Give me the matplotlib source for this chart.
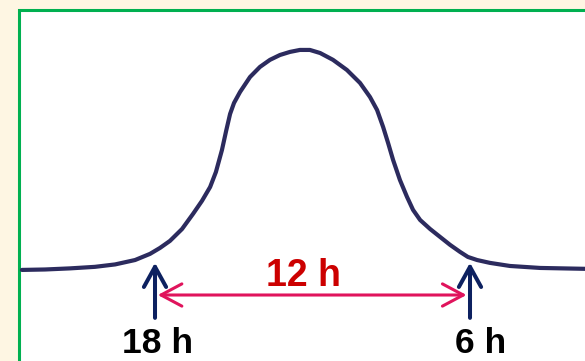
import matplotlib
matplotlib.use("Agg")
import matplotlib.pyplot as plt
from matplotlib.patches import Rectangle, FancyArrowPatch

# Hormone level over one night, hours counted from 18 h
hours = [-5.07, -4.19, -3.24, -2.29, -1.52, -0.76, -0.19, 0.19, 0.57, 1.03,
         1.45, 1.79, 2.10, 2.32, 2.55, 2.71, 2.86, 3.01, 3.24, 3.62,
         4.00, 4.38, 4.76, 5.14, 5.52, 5.90, 6.29, 6.78, 7.31, 7.81,
         8.19, 8.46, 8.69, 8.88, 9.07, 9.33, 9.60, 9.83, 10.10, 10.48,
         10.86, 11.24, 11.62, 11.92, 12.27, 12.76, 13.52, 14.67, 16.38]
level = [0.0, 0.2, 0.7, 1.4, 2.5, 4.5, 7.3, 10.0, 13.2, 18.6,
         25.5, 31.4, 37.7, 44.5, 54.5, 63.2, 70.9, 75.9, 80.9, 87.7,
         92.3, 95.5, 97.7, 99.1, 100.0, 100.0, 98.6, 95.5, 90.9, 85.0,
         78.6, 72.7, 65.0, 57.7, 50.0, 40.9, 33.2, 27.3, 22.7, 18.6,
         15.0, 11.4, 8.2, 5.9, 4.5, 3.2, 1.8, 0.9, 0.5]

onset_hour, offset_hour = 0.0, 12.0
start_label, end_label, span_label = "18 h", "6 h", "12 h"

# pixel geometry of the canvas
W, H, DPI = 585, 361, 100
fig = plt.figure(figsize=(W / DPI, H / DPI), dpi=DPI, facecolor="#fef6e3")

# white panel with green frame
panel = Rectangle((19 / W, -0.1), 1.2, (H - 9.5) / H + 0.1,
                  transform=fig.transFigure, facecolor="white",
                  edgecolor="#00b050", linewidth=2.2, zorder=0)
fig.add_artist(panel)

ax = fig.add_axes([0, 0, 1, 1])
ax.set_facecolor("none")
ax.set_xlim(-5.905, 16.381)
ax.set_ylim(-41.4, 122.7)
ax.axis("off")

ax.plot(hours, level, color="#2c2b5e", linewidth=3.0,
        solid_joinstyle="round", solid_capstyle="round", zorder=3)

navy = "#0d2160"
for h in (onset_hour, offset_hour):
    ax.add_patch(FancyArrowPatch((h, -21.8), (h, 3.3),
                                 arrowstyle="->,head_length=1.45,head_width=0.8",
                                 mutation_scale=10, color=navy, linewidth=2.9,
                                 shrinkA=0, shrinkB=0, zorder=4))

ax.add_patch(FancyArrowPatch((onset_hour, -11.4), (offset_hour, -11.4),
                             arrowstyle="<->,head_length=1.5,head_width=0.8",
                             mutation_scale=10, color="#e0145c", linewidth=2.2,
                             shrinkA=2, shrinkB=2.5, zorder=4))

font = ["Liberation Sans", "DejaVu Sans"]
ax.text(5.64, -7.3, span_label, color="#cc0000", fontsize=27,
        fontweight="bold", family=font, ha="center", va="baseline")
ax.text(0.08, -37.9, start_label, color="black", fontsize=25.5,
        fontweight="bold", family=font, ha="center", va="baseline")
ax.text(12.42, -37.9, end_label, color="black", fontsize=25.5,
        fontweight="bold", family=font, ha="center", va="baseline")

fig.savefig("out.png", dpi=DPI, facecolor=fig.get_facecolor())
